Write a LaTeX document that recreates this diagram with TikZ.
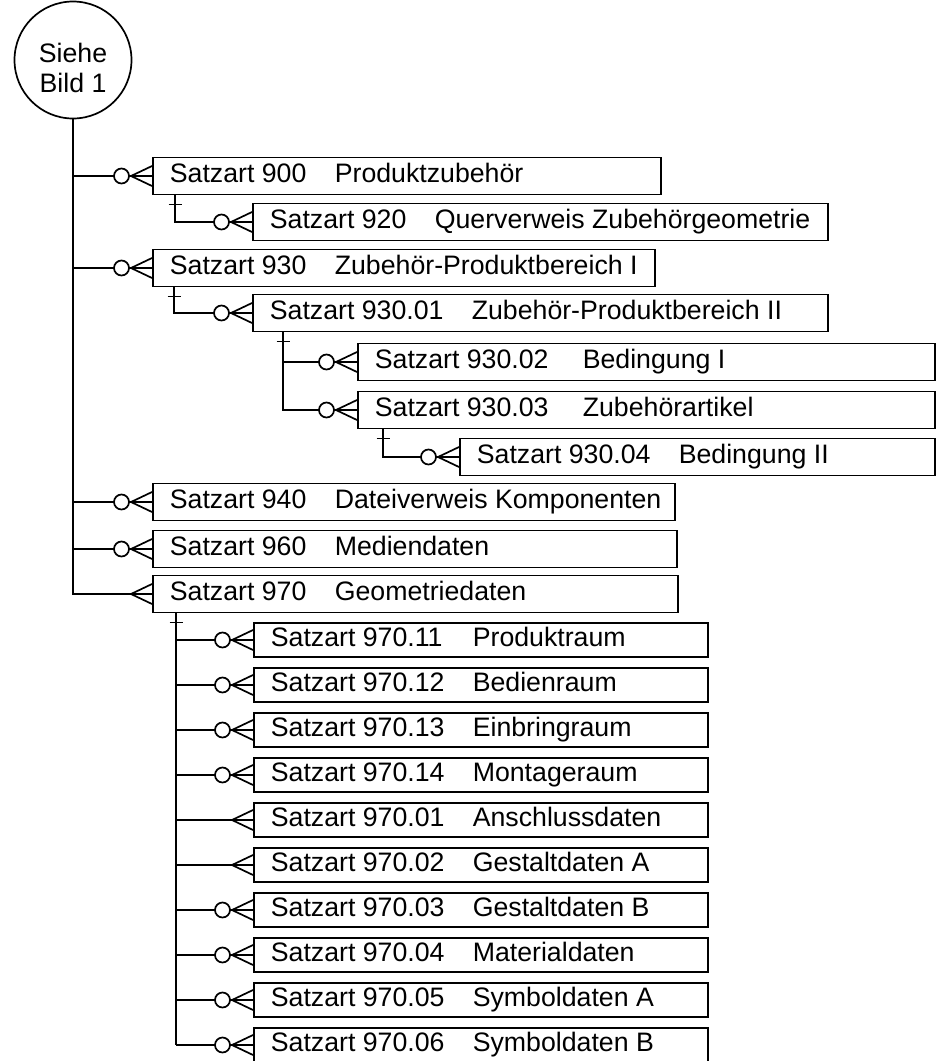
\documentclass[tikz,border=0pt]{standalone}
\usepackage{fontspec}
\setmainfont{Liberation Sans}
\usetikzlibrary{calc}

\newcommand{\satz}[7]{% name, x, y, box width, tab, number, title
  \pgfmathsetmacro{\satzw}{#4-34}%
  \node[satzbox, anchor=west] (#1) at (#2,#3)
    {\makebox[\satzw pt][l]{\makebox[#5pt][l]{#6}#7}};}
\newcommand{\many}[1]{% crow's foot on the left side of #1
  \draw ($(#1.west)+(-21,0)$) -- ($(#1.west)+(0,-10)$)
        ($(#1.west)+(-21,0)$) -- ($(#1.west)+(0,10)$);}
\newcommand{\zeromany}[1]{\many{#1}%
  \draw[fill=white] ($(#1.west)+(-30.5,0)$) circle (7.5pt);}
\newcommand{\one}[2]{% tick below #1 on the line through #2
  \draw ($(#1.south -| #2)+(-6.5,9)$) -- ++(13,0);}

\begin{document}
\begin{tikzpicture}[x=1pt, y=-1pt, line width=1.7pt,
    every node/.style={font=\fontsize{26.7}{30}\selectfont},
    satzbox/.style={draw, minimum height=37pt, inner xsep=17pt, inner ysep=0pt,
      text height=19pt, text depth=6pt}]
  %---- frame
  \useasboundingbox (0,0) rectangle (939,1061);

  %---- reference to Bild 1
  \node[draw, circle, minimum size=117pt, inner sep=0pt] (bild) at (73,60) {};
  \node[align=center] (bildtext) at (73,68) {Siehe\\Bild 1};

  %---- record types
  \satz{s900}{152}{176}{508}{165}{Satzart 900}{Produktzubehör}
  \satz{s920}{252}{222}{575}{165}{Satzart 920}{Querverweis Zubehörgeometrie}
  \satz{s930}{152}{268}{502}{165}{Satzart 930}{Zubehör-Produktbereich I}
  \satz{s9301}{252}{313}{575}{202}{Satzart 930.01}{Zubehör-Produktbereich II}
  \satz{s9302}{357}{362}{577}{208}{Satzart 930.02}{Bedingung I}
  \satz{s9303}{357}{410}{577}{208}{Satzart 930.03}{Zubehörartikel}
  \satz{s9304}{459}{457}{475}{202}{Satzart 930.04}{Bedingung II}
  \satz{s940}{152}{502}{522}{165}{Satzart 940}{Dateiverweis Komponenten}
  \satz{s960}{152}{549}{524}{165}{Satzart 960}{Mediendaten}
  \satz{s970}{152}{594}{525}{165}{Satzart 970}{Geometriedaten}

  %---- main line from Bild 1
  \draw (bild.south) -- (bild.south |- s970) -- (s970.west);
  \many{s970}
  \foreach \s in {s900,s930,s940,s960}{
    \draw (bild.south |- \s) -- (\s.west);
    \zeromany{\s}
  }

  %---- sub records
  \coordinate (v1) at (175,0);
  \draw (s900.south -| v1) -- (v1 |- s920) -- (s920.west);
  \one{s900}{v1} \zeromany{s920}

  \coordinate (v2) at (174,0);
  \draw (s930.south -| v2) -- (v2 |- s9301) -- (s9301.west);
  \one{s930}{v2} \zeromany{s9301}

  \coordinate (v3) at (283,0);
  \draw (s9301.south -| v3) -- (v3 |- s9303) -- (s9303.west);
  \draw (v3 |- s9302) -- (s9302.west);
  \one{s9301}{v3} \zeromany{s9302} \zeromany{s9303}

  \coordinate (v4) at (383,0);
  \draw (s9303.south -| v4) -- (v4 |- s9304) -- (s9304.west);
  \one{s9303}{v4} \zeromany{s9304}

  %---- geometry records below 970
  \coordinate (v5) at (176,0);
  \begin{scope}[satzbox/.append style={minimum height=34pt}]
    \foreach \n/\t/\k [count=\i from 0] in {11/Produktraum/1, 12/Bedienraum/1,
        13/Einbringraum/1, 14/Montageraum/1, 01/Anschlussdaten/0,
        02/Gestaltdaten A/0, 03/Gestaltdaten B/1, 04/Materialdaten/1,
        05/Symboldaten A/1, 06/Symboldaten B/1}{
      \pgfmathsetmacro{\yy}{640+45*\i}
      \satz{c\n}{253}{\yy}{454}{202}{Satzart 970.\n}{\t}
      \draw (v5 |- c\n) -- (c\n.west);
      \ifnum\k=1 \zeromany{c\n}\else\many{c\n}\fi
    }
  \end{scope}
  \draw (s970.south -| v5) -- (v5 |- c06);
  \one{s970}{v5}
\end{tikzpicture}
\end{document}
